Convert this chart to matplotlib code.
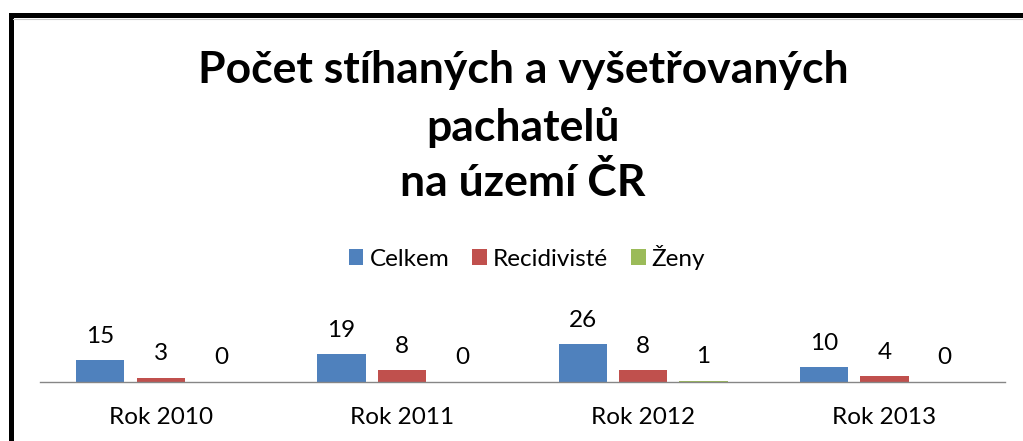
import matplotlib.pyplot as plt
import matplotlib.patches as patches
import numpy as np

# data
roky = ['Rok 2010', 'Rok 2011', 'Rok 2012', 'Rok 2013']
serie = ['Celkem', 'Recidivisté', 'Ženy']
celkem = [15, 19, 26, 10]
recidiviste = [3, 8, 8, 4]
zeny = [0, 0, 1, 0]
barvy = ['#4F81BD', '#C0504D', '#9BBB59']

plt.rcParams['font.family'] = ['Lato', 'DejaVu Sans']

W, H = 1023, 441
fig = plt.figure(figsize=(W / 100, H / 100), dpi=100)

# ramecek grafu (presahuje vpravo a dole)
fig.add_artist(patches.Rectangle((10.5 / W, -0.1), 1.2, 1 - 15 / H + 0.1,
                                 transform=fig.transFigure, fill=False,
                                 edgecolor='black', linewidth=3.6))
fig.add_artist(plt.Line2D([13 / W, 1.0], [1 - 18.5 / H, 1 - 18.5 / H],
                          transform=fig.transFigure, color='#c8c8c8', linewidth=0.8))

# osy: baseline na y=382 px, meritko 1.46 px na jednotku
bottom = (H - 382) / H
top_px = 290
ax = fig.add_axes([40 / W, bottom, (1005 - 40) / W, (382 - top_px) / H])
ax.set_xlim(-0.5, len(roky) - 0.5)
ax.set_ylim(0, (382 - top_px) / 1.46)

x = np.arange(len(roky))
sirka = 0.2
for i, (hodnoty, nazev) in enumerate(zip([celkem, recidiviste, zeny], serie)):
    pos = x + (i - 1) * 0.25
    ax.bar(pos, hodnoty, width=sirka, color=barvy[i], label=nazev, zorder=2)
    for px, v in zip(pos, hodnoty):
        ax.annotate(str(v), (px, v), xytext=(0, 24), textcoords='offset pixels',
                    ha='center', va='center', fontsize=17.5, color='black')

for s in ['top', 'right', 'left']:
    ax.spines[s].set_visible(False)
ax.spines['bottom'].set_color('#868686')
ax.spines['bottom'].set_linewidth(1.0)
ax.set_yticks([])
ax.set_xticks(x)
ax.set_xticklabels(roky, fontsize=17.5)
ax.tick_params(axis='x', length=0, pad=18)

fig.text(523 / W, 1 - 70 / H, 'Počet stíhaných a vyšetřovaných', ha='center', va='center',
         fontsize=32, fontweight='bold')
fig.text(523 / W, 1 - 127 / H, 'pachatelů', ha='center', va='center',
         fontsize=32, fontweight='bold')
fig.text(523 / W, 1 - 183 / H, 'na území ČR', ha='center', va='center',
         fontsize=32, fontweight='bold')

fig.legend(loc='center', bbox_to_anchor=(527 / W, 1 - 257 / H), ncol=3, frameon=False,
           fontsize=17.5, handlelength=0.6, handleheight=0.6, handletextpad=0.25,
           columnspacing=0.95)

fig.savefig('out.png', dpi=100)
